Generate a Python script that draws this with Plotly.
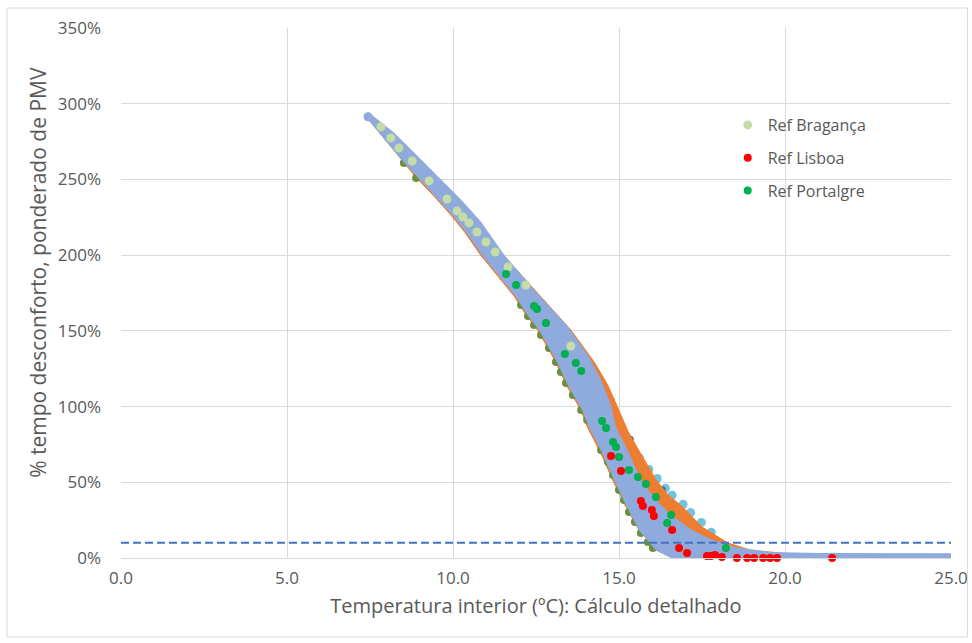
import plotly.graph_objects as go

# ---------------- data ----------------
# main cloud of simulations (light blue) - outer envelope of the point cloud
band_upper_x = [7.44, 8.19, 8.80, 9.40, 10.21, 10.81, 11.51, 12.41, 13.43, 14.07, 14.43, 14.73, 14.88,
                15.27, 15.63, 16.08, 16.54, 17.14, 17.74, 18.49, 19.55, 21.05, 25.0]
band_upper_y = [293.9, 280.7, 267.5, 254.3, 236.5, 221.9, 200.1, 177.0, 152.6, 132.8, 117.6, 101.1, 86.5,
                69.4, 51.5, 38.3, 28.4, 18.5, 11.9, 6.6, 3.3, 2.6, 2.4]
band_lower_x = [7.38, 7.80, 8.16, 8.49, 8.92, 9.52, 10.00, 10.42, 10.90, 11.42, 11.93, 12.23, 12.62,
                13.13, 13.52, 13.92, 14.13, 14.52, 14.88, 15.24, 15.63, 16.14, 16.75, 17.20, 25.0]
band_lower_y = [291.9, 280.7, 271.5, 262.9, 252.3, 238.4, 226.6, 215.3, 200.1, 186.3, 172.4, 161.8, 150.6,
                130.8, 112.9, 97.8, 85.9, 69.4, 51.5, 35.0, 18.5, 5.3, -1.3, -2.3, -2.3]

# orange series envelope (visible mostly on the right / upper side)
orange_upper_x = [7.44, 9.40, 11.51, 12.62, 13.55, 14.25, 14.66, 15.03, 15.28, 15.64, 16.12, 16.48,
                  16.92, 17.50, 18.28, 18.95, 19.85, 20.75]
orange_upper_y = [293.9, 254.3, 200.1, 173.1, 150.6, 129.5, 114.3, 95.8, 83.2, 69.4, 51.5, 41.6,
                  33.7, 20.5, 9.9, 5.3, 3.3, 2.0]
orange_lower_x = [7.38, 8.85, 9.45, 9.93, 10.35, 10.83, 11.35, 11.86, 12.16, 12.55, 13.06, 13.45,
                  13.85, 14.06, 14.45, 14.81, 15.18, 15.60, 16.14, 16.75, 20.75]
orange_lower_y = [291.9, 252.3, 238.4, 226.6, 215.3, 200.1, 186.3, 172.4, 161.8, 150.6, 130.8, 112.9,
                  97.8, 85.9, 69.4, 51.5, 35.0, 18.5, 5.3, -1.3, -1.3]

# olive simulations peeking out on the lower-left edge
olive_x = [8.52, 8.89, 12.05, 12.26, 12.44, 12.65, 12.89, 13.10, 13.25, 13.40, 13.61, 13.86, 14.04,
           14.46, 14.67, 14.82, 15.00, 15.15, 15.30, 15.48, 15.66, 15.87, 16.02]
olive_y = [260.9, 251.0, 167.1, 159.8, 153.9, 147.3, 138.7, 129.5, 122.9, 115.6, 107.7, 97.8, 91.1,
           71.3, 63.4, 54.8, 44.9, 38.3, 30.4, 23.8, 16.5, 10.6, 6.6]

# light cyan simulations on the outer right edge
cyan_x = [15.62, 15.90, 16.15, 16.40, 16.60, 16.93, 17.16, 17.48, 17.78]
cyan_y = [66.0, 58.5, 52.5, 46.0, 41.5, 35.5, 30.0, 23.5, 17.0]

# dark blue / purple simulations (few specks)
dark_x = [14.33, 14.76, 15.34, 16.30]
dark_y = [122.0, 104.4, 78.5, 45.0]

# reference cases
braganca_x = [7.83, 8.13, 8.37, 8.77, 9.28, 9.82, 10.12, 10.30, 10.48, 10.72, 10.99, 11.27, 11.66, 12.20, 13.55]
braganca_y = [284.7, 277.4, 270.8, 262.2, 249.0, 237.1, 229.2, 225.2, 221.3, 215.3, 208.7, 202.1, 192.2, 180.3, 140.0]

lisboa_x = [14.76, 15.06, 15.66, 15.72, 15.99, 16.05, 16.60, 16.81, 17.05, 17.65, 17.77, 17.89, 18.10,
            18.55, 18.86, 19.07, 19.34, 19.55, 19.76, 21.42]
lisboa_y = [67.4, 57.5, 37.6, 34.3, 31.7, 27.7, 18.5, 6.6, 3.3, 1.3, 1.3, 2.0, 0.7,
            0.0, 0.0, 0.0, 0.0, 0.0, 0.0, 0.0]

portalegre_x = [11.60, 11.90, 12.44, 12.53, 12.80, 13.37, 13.70, 13.86, 14.49, 14.61, 14.82, 14.91, 15.00,
                15.30, 15.57, 15.81, 16.11, 16.57, 16.45, 18.22]
portalegre_y = [187.6, 180.3, 166.4, 164.5, 155.2, 134.7, 128.8, 123.5, 90.5, 85.9, 76.6, 73.3, 66.7,
                58.1, 53.5, 48.9, 40.3, 28.4, 23.1, 6.6]

limit_x = [0.0, 25.0]
limit_y = [10.0, 10.0]

x_ticks = [0, 5, 10, 15, 20, 25]
x_tick_labels = ["0.0", "5.0", "10.0", "15.0", "20.0", "25.0"]
y_ticks = [0, 50, 100, 150, 200, 250, 300, 350]
y_tick_labels = ["0%", "50%", "100%", "150%", "200%", "250%", "300%", "350%"]

FONT = "Open Sans"
GREY = "#595959"

fig = go.Figure()

# cyan specks (behind orange)
fig.add_trace(go.Scatter(x=cyan_x, y=cyan_y, mode="markers",
                         marker=dict(color="#6FC3DF", size=9), showlegend=False, hoverinfo="skip"))
fig.add_trace(go.Scatter(x=dark_x, y=dark_y, mode="markers",
                         marker=dict(color="#5A5F9C", size=7), showlegend=False, hoverinfo="skip"))
# orange envelope
fig.add_trace(go.Scatter(
    x=orange_upper_x + orange_lower_x[::-1], y=orange_upper_y + orange_lower_y[::-1],
    mode="lines", fill="toself", fillcolor="#ED7D31", line=dict(color="#ED7D31", width=1),
    showlegend=False, hoverinfo="skip"))
# olive specks
fig.add_trace(go.Scatter(x=olive_x, y=olive_y, mode="markers",
                         marker=dict(color="#6F8F3A", size=8), showlegend=False, hoverinfo="skip"))
# light blue main cloud
fig.add_trace(go.Scatter(
    x=band_upper_x + band_lower_x[::-1], y=band_upper_y + band_lower_y[::-1],
    mode="lines", fill="toself", fillcolor="#8FAADC", line=dict(color="#8FAADC", width=2),
    showlegend=False, hoverinfo="skip"))
fig.add_trace(go.Scatter(x=band_upper_x[:1], y=[291.4], mode="markers",
                         marker=dict(color="#8FAADC", size=9), showlegend=False, hoverinfo="skip"))

# 10 % limit
fig.add_trace(go.Scatter(x=limit_x, y=limit_y, mode="lines",
                         line=dict(color="#4472C4", width=2, dash="8px,4px"),
                         showlegend=False, hoverinfo="skip"))

# reference cases
fig.add_trace(go.Scatter(x=braganca_x, y=braganca_y, mode="markers", name="Ref Bragança",
                         marker=dict(color="#C5DCA6", size=9), legendgroup="a", cliponaxis=False))
fig.add_trace(go.Scatter(x=lisboa_x, y=lisboa_y, mode="markers", name="Ref Lisboa",
                         marker=dict(color="#FF0000", size=8), legendgroup="b", cliponaxis=False))
fig.add_trace(go.Scatter(x=portalegre_x, y=portalegre_y, mode="markers", name="Ref Portalgre",
                         marker=dict(color="#00B050", size=8), legendgroup="c", cliponaxis=False))

fig.update_layout(
    width=972, height=643,
    margin=dict(l=121, r=21, t=28, b=85, autoexpand=False),
    paper_bgcolor="white", plot_bgcolor="white",
    font=dict(family=FONT, color=GREY, size=17),
    legend=dict(x=0.731, y=0.849, xanchor="left", yanchor="top",
                font=dict(size=16, color=GREY), bgcolor="rgba(0,0,0,0)",
                tracegroupgap=9, itemsizing="trace"),
    xaxis=dict(range=[0, 25], tickvals=x_ticks, ticktext=x_tick_labels, automargin=False,
               showgrid=True, gridcolor="#D9D9D9", gridwidth=1,
               zeroline=False, showline=True, linecolor="#D9D9D9",
               ticks="", ticklabelstandoff=5,
               tickfont=dict(size=17, color=GREY),
               title=dict(text="Temperatura interior (ºC): Cálculo detalhado",
                          font=dict(size=20, color=GREY), standoff=10)),
    yaxis=dict(range=[0, 350], tickvals=y_ticks, ticktext=y_tick_labels, automargin=False,
               showgrid=True, gridcolor="#D9D9D9", gridwidth=1,
               zeroline=False, showline=False,
               ticks="", ticklabelstandoff=19,
               tickfont=dict(size=17, color=GREY)),
    annotations=[dict(text="% tempo desconforto, ponderado de PMV", textangle=-90,
                      xref="paper", yref="paper", x=-0.1, y=0.538,
                      xanchor="center", yanchor="middle", showarrow=False,
                      font=dict(size=21, color=GREY, family=FONT))],
    shapes=[dict(type="rect", xref="paper", yref="paper",
                 x0=-0.1373, x1=1.020, y0=-0.149, y1=1.0377,
                 line=dict(color="#D9D9D9", width=1), fillcolor="rgba(0,0,0,0)")],
)

fig.write_html("out.html", config={"displayModeBar": False},
               post_script="document.body.style.margin='0';document.body.style.overflow='hidden';")
